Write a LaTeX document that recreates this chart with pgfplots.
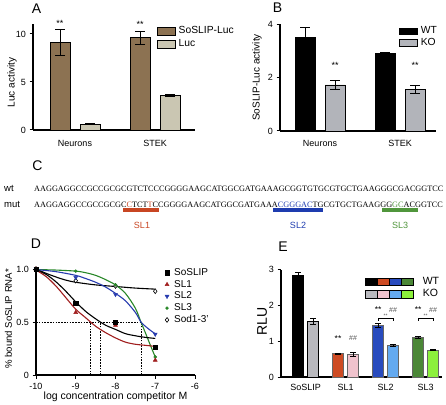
\documentclass[border=0pt]{standalone}
\usepackage{pgfplots}
\pgfplotsset{compat=1.18}
\usepackage{fontspec}
\setmainfont{Liberation Sans}
\newfontfamily\seqfont{Liberation Serif}
\definecolor{brownA}{RGB}{140,114,82}
\definecolor{lucA}{RGB}{202,198,178}
\definecolor{koB}{RGB}{178,180,186}
\definecolor{slred}{RGB}{205,75,35}
\definecolor{slblue}{RGB}{40,75,190}
\definecolor{slgreen}{RGB}{75,135,55}
\definecolor{kogray}{RGB}{185,185,190}
\definecolor{kopink}{RGB}{240,195,205}
\definecolor{koblue}{RGB}{100,170,240}
\definecolor{kogreen}{RGB}{140,240,60}
\definecolor{cred}{RGB}{200,70,35}
\definecolor{cblue}{RGB}{30,60,175}
\definecolor{cgreen}{RGB}{80,150,60}
\definecolor{dred}{RGB}{160,30,30}
\definecolor{dblue}{RGB}{40,60,175}
\definecolor{dgreen}{RGB}{40,135,40}
\pgfplotsset{
  panel/.style={
    scale only axis, clip=false,
    axis x line=bottom, axis y line=left,
    axis line style={line width=1.1pt,-},
    every outer x axis line/.append style={-},
    every outer y axis line/.append style={-},
    every inner x axis line/.append style={-},
    every inner y axis line/.append style={-},
    tick align=outside,
    major tick length=3.5pt,
    tick style={line width=1pt, black},
    tick label style={font=\fontsize{9}{10}\selectfont},
    /pgf/number format/assume math mode=true,
    label style={font=\fontsize{9.5}{11}\selectfont},
    legend style={draw=none, fill=none, inner sep=0pt, outer sep=0pt,
      anchor=north west, nodes={inner sep=0pt, text height=7.5pt, text depth=2.5pt}},
    legend cell align=left,
  },
  errA/.style={draw=none, mark=none, forget plot,
    error bars/.cd, y dir=both, y explicit,
    error bar style={draw=black, line width=0.9pt},
    error mark options={rotate=90, mark size=5pt, line width=0.9pt, draw=black}},
  errE/.style={draw=none, mark=none, forget plot,
    error bars/.cd, y dir=both, y explicit,
    error bar style={draw=black, line width=0.8pt},
    error mark options={rotate=90, mark size=3pt, line width=0.8pt, draw=black}},
}
\begin{document}
\begin{tikzpicture}
\useasboundingbox (0pt,0pt) rectangle (446pt,404pt);

% ---------- Panel letters
\begin{scope}[every node/.style={inner sep=0pt, text height=10pt, text depth=0pt, anchor=center, font=\fontsize{14}{16}\selectfont}]
\node at (36.5pt,395pt) {A};
\node at (277.5pt,396.5pt) {B};
\node at (37.5pt,238pt) {C};
\node at (36pt,160pt) {D};
\node at (283pt,157pt) {E};
\end{scope}

% ---------- Panel A
\begin{axis}[panel, at={(33pt,274pt)}, anchor=south west, width=162pt, height=105.6pt,
  xmin=-0.525, xmax=1.5, ymin=0, ymax=11,
  ytick={0,5,10}, xtick={0,1}, xticklabels={Neurons,STEK},
  x tick style={draw=none}, xticklabel style={yshift=-3pt},
  ylabel={Luc activity},
  every axis y label/.style={at={(axis description cs:-0.13,0.45)}, rotate=90, anchor=center},
  legend style={at={(0.765,0.981)}, font=\fontsize{10.3}{12}\selectfont, row sep=3pt, column sep=3pt}]
% SoSLIP-Luc
\addplot[ybar, bar width=20pt, bar shift=0pt, fill=brownA, draw=black, line width=0.8pt, forget plot]
  coordinates {(-0.1875,9.1) (0.8125,9.6)};
\addplot[errA] coordinates {(-0.1875,9.1) +- (0,1.35) (0.8125,9.6) +- (0,0.7)};
% Luc
\addplot[ybar, bar width=20pt, bar shift=0pt, fill=lucA, draw=black, line width=0.8pt, forget plot]
  coordinates {(0.1875,0.6) (1.1875,3.6)};
\addplot[errA] coordinates {(0.1875,0.6) +- (0,0.06) (1.1875,3.6) +- (0,0.15)};
\addlegendimage{legend image code/.code={\draw[fill=brownA, draw=black, line width=0.8pt] (0pt,-3.6pt) rectangle (18pt,3.6pt);}}
\addlegendentry{SoSLIP-Luc}
\addlegendimage{legend image code/.code={\draw[fill=lucA, draw=black, line width=0.8pt] (0pt,-3.6pt) rectangle (18pt,3.6pt);}}
\addlegendentry{Luc}
\node[font=\fontsize{9}{10}\selectfont] at (axis cs:-0.1875,11.15) {**};
\node[font=\fontsize{9}{10}\selectfont] at (axis cs:0.8125,10.95) {**};
\end{axis}

% ---------- Panel B
\begin{axis}[panel, at={(280pt,273pt)}, anchor=south west, width=156pt, height=107pt,
  xmin=-0.5, xmax=1.45, ymin=0, ymax=4,
  ytick={0,2,4}, xtick={0,1}, xticklabels={Neurons,STEK},
  x tick style={draw=none}, xticklabel style={yshift=-2pt},
  ylabel={SoSLIP-Luc activity},
  every axis y label/.style={at={(axis description cs:-0.147,0.5)}, rotate=90, anchor=center},
  legend style={at={(0.763,0.977)}, font=\fontsize{10.3}{12}\selectfont, row sep=1.5pt, column sep=3pt}]
% WT
\addplot[ybar, bar width=20pt, bar shift=0pt, fill=black, draw=black, line width=0.8pt, forget plot]
  coordinates {(-0.1875,3.5) (0.8125,2.9)};
\addplot[errA] coordinates {(-0.1875,3.5) +- (0,0.37) (0.8125,2.9) +- (0,0.03)};
% KO
\addplot[ybar, bar width=20pt, bar shift=0pt, fill=koB, draw=black, line width=0.8pt, forget plot]
  coordinates {(0.1875,1.72) (1.1875,1.55)};
\addplot[errA] coordinates {(0.1875,1.72) +- (0,0.16) (1.1875,1.55) +- (0,0.14)};
\addlegendimage{legend image code/.code={\draw[fill=black, draw=black, line width=0.8pt] (0pt,-3.3pt) rectangle (18pt,3.3pt);}}
\addlegendentry{WT}
\addlegendimage{legend image code/.code={\draw[fill=koB, draw=black, line width=0.8pt] (0pt,-3.3pt) rectangle (18pt,3.3pt);}}
\addlegendentry{KO}
\node[font=\fontsize{9}{10}\selectfont] at (axis cs:0.1875,2.47) {**};
\node[font=\fontsize{9}{10}\selectfont] at (axis cs:1.1875,2.47) {**};
\end{axis}

% ---------- Panel C
\node[anchor=base west, inner sep=0pt, font=\fontsize{9.5}{11}\selectfont] at (4pt,212pt) {wt};
\node[anchor=base west, inner sep=0pt, font=\fontsize{9.5}{11}\selectfont] at (4pt,196.7pt) {mut};
\node[anchor=base west, inner sep=0pt, font=\seqfont\fontsize{8.23}{10}\selectfont] at (34pt,212pt)
  {AAGGAGGCCGCCGCGCGTCTCCCGGGGAAGCATGGCGATGAAAGCGGTGTGCGTGCTGAAGGGCGACGGTCC};
\node[anchor=base west, inner sep=0pt, font=\seqfont\fontsize{8.23}{10}\selectfont] at (34pt,196.7pt)
  {AAGGAGGCCGCCGCGC\textcolor{cred}{C}TCT\textcolor{cred}{T}CCGGGGAAGCATGGCGATGAAA\textcolor{cblue}{CGGGAC}TGCGTGCTGAAGGG\textcolor{cgreen}{GC}ACGGTCC};
\fill[cred] (123.3pt,191.5pt) rectangle (159pt,195.5pt);
\fill[cblue] (273pt,191.5pt) rectangle (323pt,195.5pt);
\fill[cgreen] (382pt,191.5pt) rectangle (418pt,195.5pt);
\node[font=\fontsize{9}{10}\selectfont, text=cred] at (142pt,179pt) {SL1};
\node[font=\fontsize{9}{10}\selectfont, text=cblue] at (298pt,179pt) {SL2};
\node[font=\fontsize{9}{10}\selectfont, text=cgreen] at (400pt,179pt) {SL3};

% ---------- Panel D
\begin{axis}[panel, at={(36pt,29pt)}, anchor=south west, width=159pt, height=106pt,
  xmin=-10, xmax=-6, ymin=0, ymax=1,
  xtick={-10,-9,-8,-7,-6}, ytick={0,0.5,1}, yticklabels={0,0.5,1.0},
  xticklabel style={yshift=-1pt},
  xlabel={log concentration competitor M},
  ylabel={\% bound SoSLIP RNA*},
  every axis x label/.style={at={(axis description cs:0.5,-0.2075)}, anchor=center, font=\fontsize{10.5}{12}\selectfont},
  every axis y label/.style={at={(axis description cs:-0.174,0.53)}, rotate=90, anchor=center, font=\fontsize{9.6}{11}\selectfont},
  legend style={at={(0.811,1.012)}, font=\fontsize{10}{12}\selectfont, row sep=1.8pt, column sep=5pt}]
% dashed guides
\addplot[black, dash pattern=on 1.6pt off 1.2pt, line width=0.7pt, forget plot] coordinates {(-10,0.5) (-7.36,0.5)};
\addplot[black, dash pattern=on 1.6pt off 1.2pt, line width=0.7pt, forget plot] coordinates {(-8.63,0) (-8.63,0.5)};
\addplot[black, dash pattern=on 1.6pt off 1.2pt, line width=0.7pt, forget plot] coordinates {(-8.37,0) (-8.37,0.5)};
\addplot[black, dash pattern=on 1.6pt off 1.2pt, line width=0.7pt, forget plot] coordinates {(-7.36,0) (-7.36,0.5)};
% fitted curves
\addplot[black, line width=1.1pt, smooth, forget plot] coordinates {
 (-10,1.0) (-9.75,0.96) (-9.5,0.925) (-9.25,0.895) (-9,0.875) (-8.5,0.85) (-8,0.835) (-7.5,0.82) (-7,0.81)};
\addplot[dgreen, line width=1.1pt, smooth, forget plot] coordinates {
 (-10,0.995) (-9.5,0.99) (-9,0.98) (-8.75,0.965) (-8.5,0.94) (-8.25,0.90) (-8,0.85) (-7.75,0.77) (-7.5,0.63) (-7.36,0.5) (-7.25,0.40) (-7.1,0.26) (-7,0.17)};
\addplot[dblue, line width=1.1pt, smooth, forget plot] coordinates {
 (-10,0.995) (-9.5,0.975) (-9,0.94) (-8.75,0.91) (-8.5,0.875) (-8.25,0.83) (-8,0.77) (-7.75,0.70) (-7.5,0.59) (-7.36,0.5) (-7.25,0.46) (-7.1,0.415) (-7,0.39)};
\addplot[black, line width=1.1pt, smooth, forget plot] coordinates {
 (-10,0.99) (-9.75,0.95) (-9.5,0.88) (-9.25,0.79) (-9,0.69) (-8.75,0.60) (-8.5,0.53) (-8.25,0.47) (-8,0.43) (-7.75,0.39) (-7.5,0.37) (-7.25,0.355) (-7,0.345)};
\addplot[dred, line width=1.1pt, smooth, forget plot] coordinates {
 (-10,0.99) (-9.75,0.93) (-9.5,0.84) (-9.25,0.73) (-9,0.62) (-8.75,0.54) (-8.5,0.46) (-8.25,0.40) (-8,0.35) (-7.75,0.31) (-7.5,0.29) (-7.25,0.28) (-7,0.27)};
% data points
\addplot[only marks, mark=diamond*, mark size=2.4pt, mark options={fill=white, draw=black, line width=0.6pt}, forget plot]
  coordinates {(-10,1.0) (-9,0.89) (-8,0.84) (-7,0.79)};
\addplot[only marks, mark=*, mark size=1.5pt, mark options={fill=dgreen, draw=dgreen}, forget plot]
  coordinates {(-10,1.0) (-9,0.98) (-8,0.85) (-7,0.17)};
\addplot[only marks, mark=triangle*, mark size=2.3pt, mark options={rotate=180, fill=dblue, draw=dblue}, forget plot]
  coordinates {(-10,1.0) (-9,0.92) (-8,0.76) (-7,0.385)};
\addplot[only marks, mark=triangle*, mark size=2.3pt, mark options={fill=dred, draw=dred}, forget plot]
  coordinates {(-10,1.0) (-9,0.59) (-8,0.47) (-7,0.14)};
\addplot[only marks, mark=square*, mark size=2.1pt, mark options={fill=black, draw=black}, forget plot]
  coordinates {(-10,1.0) (-9,0.68) (-8,0.5) (-7,0.26)};
% legend
\addlegendimage{legend image code/.code={\draw plot[mark=square*, mark size=2.1pt, mark options={fill=black,draw=black}] coordinates {(3pt,0pt)};}}
\addlegendentry{SoSLIP}
\addlegendimage{legend image code/.code={\draw plot[mark=triangle*, mark size=2.3pt, mark options={fill=dred,draw=dred}] coordinates {(3pt,0pt)};}}
\addlegendentry{SL1}
\addlegendimage{legend image code/.code={\draw plot[mark=triangle*, mark size=2.3pt, mark options={rotate=180,fill=dblue,draw=dblue}] coordinates {(3pt,0pt)};}}
\addlegendentry{SL2}
\addlegendimage{legend image code/.code={\draw plot[mark=*, mark size=1.5pt, mark options={fill=dgreen,draw=dgreen}] coordinates {(3pt,0pt)};}}
\addlegendentry{SL3}
\addlegendimage{legend image code/.code={\draw plot[mark=diamond*, mark size=2.4pt, mark options={fill=white,draw=black,line width=0.6pt}] coordinates {(3pt,0pt)};}}
\addlegendentry{Sod1-3'}
\end{axis}

% ---------- Panel E
\begin{axis}[panel, at={(281pt,27pt)}, anchor=south west, width=161pt, height=107.1pt,
  xmin=-0.6125, xmax=3.41, ymin=0, ymax=3,
  ytick={0,1,2,3}, xtick={0,1,2,3}, xticklabels={SoSLIP,SL1,SL2,SL3},
  x tick style={draw=none},
  ylabel={RLU},
  every axis y label/.style={at={(axis description cs:-0.117,0.52)}, rotate=90, anchor=center, font=\fontsize{14}{16}\selectfont},
  legend style={at={(0.522,0.935)}, font=\fontsize{10.5}{12}\selectfont, row sep=2.5pt, column sep=9pt}]
\addplot[ybar, bar width=11pt, bar shift=0pt, fill=black, draw=black, line width=0.6pt, forget plot] coordinates {(-0.1875,2.86)};
\addplot[ybar, bar width=11pt, bar shift=0pt, fill=kogray, draw=black, line width=0.6pt, forget plot] coordinates {(0.1875,1.55)};
\addplot[ybar, bar width=11pt, bar shift=0pt, fill=slred, draw=black!60, line width=0.6pt, forget plot] coordinates {(0.8125,0.65)};
\addplot[ybar, bar width=11pt, bar shift=0pt, fill=kopink, draw=black!60, line width=0.6pt, forget plot] coordinates {(1.1875,0.63)};
\addplot[ybar, bar width=11pt, bar shift=0pt, fill=slblue, draw=black!60, line width=0.6pt, forget plot] coordinates {(1.8125,1.45)};
\addplot[ybar, bar width=11pt, bar shift=0pt, fill=koblue, draw=black!60, line width=0.6pt, forget plot] coordinates {(2.1875,0.89)};
\addplot[ybar, bar width=11pt, bar shift=0pt, fill=slgreen, draw=black!60, line width=0.6pt, forget plot] coordinates {(2.8125,1.12)};
\addplot[ybar, bar width=11pt, bar shift=0pt, fill=kogreen, draw=black!60, line width=0.6pt, forget plot] coordinates {(3.1875,0.76)};
\addplot[errE] coordinates {(-0.1875,2.86) +- (0,0.065) (0.8125,0.65) +- (0,0.015) (1.8125,1.45) +- (0,0.06) (2.8125,1.12) +- (0,0.03)};
\addplot[errE] coordinates {(0.1875,1.55) +- (0,0.09) (1.1875,0.63) +- (0,0.06) (2.1875,0.89) +- (0,0.03) (3.1875,0.76) +- (0,0.02)};
\addlegendimage{legend image code/.code={
  \fill[black] (0pt,-3.7pt) rectangle (12pt,3.7pt);
  \fill[slred] (12pt,-3.7pt) rectangle (24pt,3.7pt);
  \fill[slblue] (24pt,-3.7pt) rectangle (36pt,3.7pt);
  \fill[slgreen] (36pt,-3.7pt) rectangle (48pt,3.7pt);
  \draw[black, line width=0.7pt] (0pt,-3.7pt) rectangle (48pt,3.7pt) (12pt,-3.7pt) -- (12pt,3.7pt) (24pt,-3.7pt) -- (24pt,3.7pt) (36pt,-3.7pt) -- (36pt,3.7pt);}}
\addlegendentry{WT}
\addlegendimage{legend image code/.code={
  \fill[kogray] (0pt,-3.7pt) rectangle (12pt,3.7pt);
  \fill[kopink] (12pt,-3.7pt) rectangle (24pt,3.7pt);
  \fill[koblue] (24pt,-3.7pt) rectangle (36pt,3.7pt);
  \fill[kogreen] (36pt,-3.7pt) rectangle (48pt,3.7pt);
  \draw[black, line width=0.7pt] (0pt,-3.7pt) rectangle (48pt,3.7pt) (12pt,-3.7pt) -- (12pt,3.7pt) (24pt,-3.7pt) -- (24pt,3.7pt) (36pt,-3.7pt) -- (36pt,3.7pt);}}
\addlegendentry{KO}
% significance marks
\node[font=\fontsize{8.5}{10}\selectfont] at (axis cs:0.8125,1.09) {**};
\node[font=\fontsize{7}{8}\selectfont, text=black!70] at (axis cs:1.1875,1.09) {\#\#};
\node[font=\fontsize{8.5}{10}\selectfont] at (axis cs:1.8125,1.88) {**};
\node[font=\fontsize{7}{8}\selectfont, text=black!70] at (axis cs:2.1875,1.88) {\#\#};
\node[font=\fontsize{8.5}{10}\selectfont] at (axis cs:2.8125,1.88) {**};
\node[font=\fontsize{7}{8}\selectfont, text=black!70] at (axis cs:3.1875,1.88) {\#\#};
\draw[black, line width=0.7pt] (axis cs:1.8125,1.57) -- (axis cs:1.8125,1.64) -- (axis cs:2.1875,1.64) -- (axis cs:2.1875,1.57);
\draw[black, line width=0.7pt] (axis cs:2.8125,1.57) -- (axis cs:2.8125,1.64) -- (axis cs:3.1875,1.64) -- (axis cs:3.1875,1.57);
\node[font=\fontsize{5}{6}\selectfont, text=black!70] at (axis cs:2,1.72) {**};
\node[font=\fontsize{5}{6}\selectfont, text=black!70] at (axis cs:3,1.72) {**};
\end{axis}
\end{tikzpicture}
\end{document}
